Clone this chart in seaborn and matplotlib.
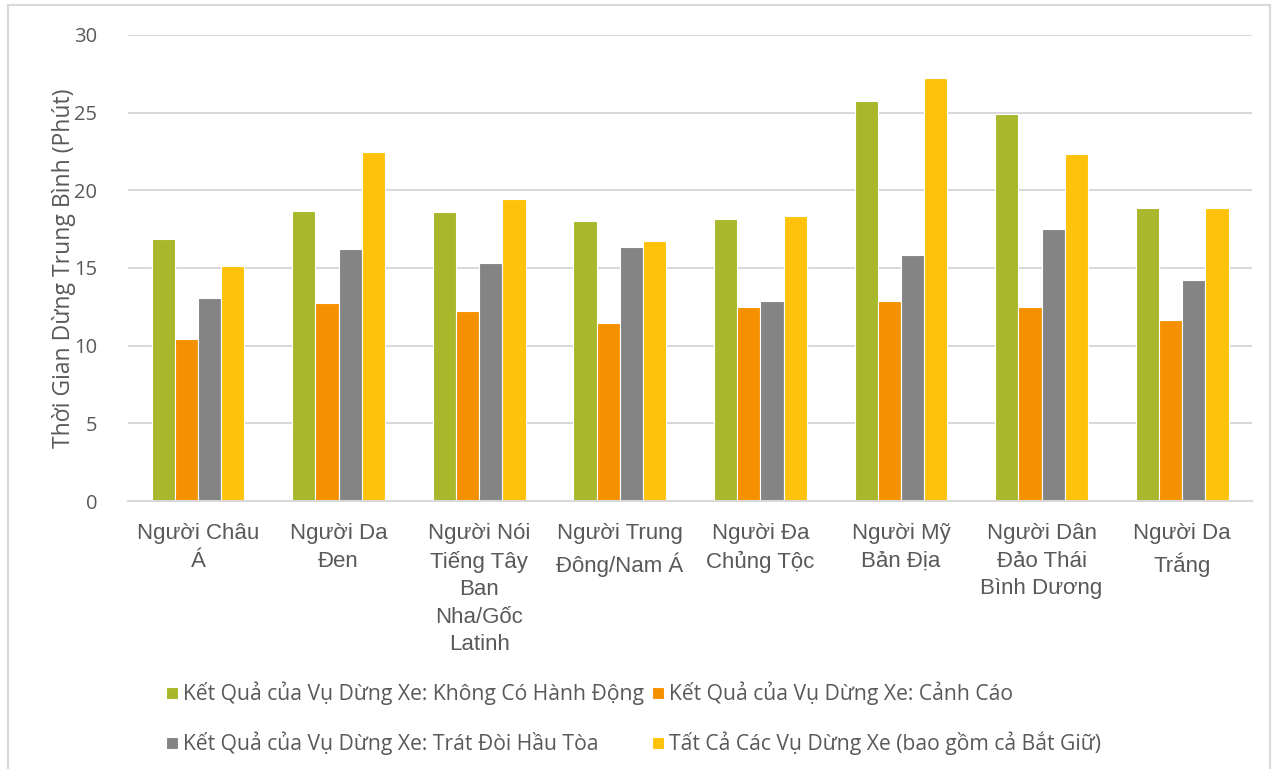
import pandas as pd
import numpy as np
import matplotlib.pyplot as plt
import seaborn as sns
from matplotlib.patches import Rectangle

# Data
groups = ['Người Châu\nÁ', 'Người Da\nĐen', 'Người Nói\nTiếng Tây\nBan\nNha/Gốc\nLatinh',
          'Người Trung\nĐông/Nam Á', 'Người Đa\nChủng Tộc', 'Người Mỹ\nBản Địa',
          'Người Dân\nĐảo Thái\nBình Dương', 'Người Da\nTrắng']
series = ['Kết Quả của Vụ Dừng Xe: Không Có Hành Động',
          'Kết Quả của Vụ Dừng Xe: Cảnh Cáo',
          'Kết Quả của Vụ Dừng Xe: Trát Đòi Hầu Tòa',
          'Tất Cả Các Vụ Dừng Xe (bao gồm cả Bắt Giữ)']
no_action = [16.85, 18.66, 18.6, 18.04, 18.17, 25.74, 24.92, 18.87]
warning = [10.45, 12.73, 12.21, 11.46, 12.46, 12.9, 12.51, 11.66]
citation = [13.07, 16.25, 15.3, 16.36, 12.9, 15.82, 17.54, 14.23]
all_stops = [15.12, 22.47, 19.43, 16.75, 18.35, 27.24, 22.34, 18.87]
colors = ['#A8B82A', '#F59100', '#848484', '#FFC20A']

df = pd.DataFrame({
    'group': groups * 4,
    'series': np.repeat(series, len(groups)),
    'value': no_action + warning + citation + all_stops,
})

sns.set_style('white')
plt.rcParams['font.family'] = ['Liberation Sans', 'DejaVu Sans']

fig = plt.figure(figsize=(12.78, 7.69), dpi=100)
ax = fig.add_axes([0.1, 0.3485, 0.88, 0.606])

sns.barplot(data=df, x='group', y='value', hue='series', palette=colors, saturation=1,
            width=0.66, edgecolor='white', linewidth=0.8, ax=ax, legend=True)

ax.set_ylim(0, 30)
ax.set_yticks(range(0, 31, 5))
ax.set_xlim(-0.5, len(groups) - 0.5)
ax.yaxis.grid(True, color='#D9D9D9', linewidth=1.5)
ax.set_axisbelow(True)
for s in ['top', 'right', 'left']:
    ax.spines[s].set_visible(False)
ax.spines['bottom'].set_color('#D9D9D9')
ax.spines['bottom'].set_linewidth(1.5)
ax.tick_params(axis='both', length=0, colors='#595959')
ax.tick_params(axis='x', pad=16)
ax.tick_params(axis='y', pad=22)
for lab in ax.get_yticklabels():
    lab.set_fontsize(14.5)
    lab.set_family(['Open Sans', 'DejaVu Sans'])
for lab in ax.get_xticklabels():
    lab.set_fontsize(16)
    lab.set_linespacing(1.4)
ax.set_xlabel('')
ax.set_ylabel('Thời Gian Dừng Trung Bình (Phút)', fontsize=16.5, color='#595959',
              family=['Open Sans', 'DejaVu Sans'], labelpad=-1)

handles, labels = ax.get_legend_handles_labels()
ax.get_legend().remove()
# reorder so the 2-column legend reads row by row
order = [0, 2, 1, 3]
fig.legend([handles[i] for i in order], [labels[i] for i in order], ncol=2,
           loc='lower left', bbox_to_anchor=(0.115, -0.007),
           frameon=False, handlelength=0.55, handleheight=0.55, handletextpad=0.25,
           columnspacing=0.4, labelspacing=1.25,
           prop={'family': ['Open Sans', 'DejaVu Sans'], 'size': 15.2}, labelcolor='#595959')

fig.patches.append(Rectangle((0.006, -0.01), 0.988, 1.003, transform=fig.transFigure,
                             fill=False, edgecolor='#D9D9D9', linewidth=1.5))

fig.savefig('out.png', dpi=100)
